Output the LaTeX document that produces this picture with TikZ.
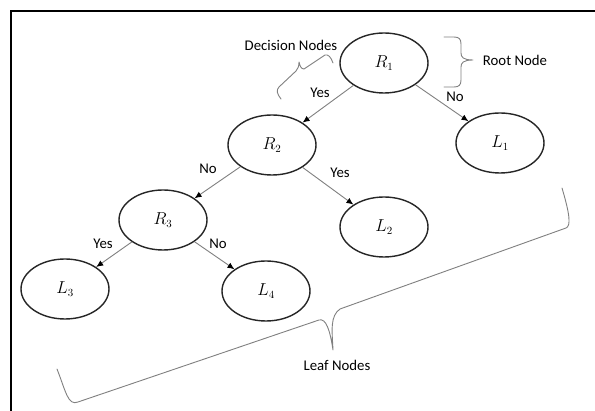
\documentclass[tikz,border=0pt]{standalone}
\usepackage{fontspec}
\setmainfont{Carlito}
\usetikzlibrary{shapes.geometric,arrows.meta}
\begin{document}
\begin{tikzpicture}[x=1pt,y=-1pt,
  tnode/.style={draw=black!85,line width=1.4pt,ellipse,minimum width=88pt,minimum height=60pt,inner sep=0pt,font=\fontsize{16}{19}\selectfont},
  edge/.style={draw=black!50,line width=0.9pt,-{Latex[length=7pt,width=6pt,color=black]}},
  elabel/.style={font=\fontsize{14.8}{18}\selectfont,text=black,inner sep=0pt},
  bracestyle/.style={draw=black!50,line width=0.9pt,line cap=round,line join=round}]
\useasboundingbox (0,0) rectangle (595,411);
\fill[white] (0,0) rectangle (595,411);
% frame
\draw[line width=2pt,black] (11,411) -- (11,11) -- (595,11);
% tree nodes
\node[tnode] (R1) at (384,63) {$R_1$};
\node[tnode] (R2) at (272,145) {$R_2$};
\node[tnode] (L1) at (500,143) {$L_1$};
\node[tnode] (R3) at (163,220) {$R_3$};
\node[tnode] (L2) at (384,227) {$L_2$};
\node[tnode] (L3) at (65,289) {$L_3$};
\node[tnode] (L4) at (266,291) {$L_4$};
% connectors
\draw[edge] (R1) -- (R2);
\draw[edge] (R1) -- (L1);
\draw[edge] (R2) -- (R3);
\draw[edge] (R2) -- (L2);
\draw[edge] (R3) -- (L3);
\draw[edge] (R3) -- (L4);
% edge labels
\node[elabel] (y1) at (320,93) {Yes};
\node[elabel] (n1) at (455,97) {No};
\node[elabel] (n2) at (208,169) {No};
\node[elabel] (y2) at (340,173) {Yes};
\node[elabel] (y3) at (103,244) {Yes};
\node[elabel] (n3) at (218,244) {No};
% annotations
\node[elabel] (dn) at (291,45) {Decision Nodes};
\node[elabel] (rn) at (515,60) {Root Node};
\node[elabel] (ln) at (337,365) {Leaf Nodes};
% decision brace
\draw[bracestyle] (281,99) .. controls (277,94) and (276,90) .. (279,87) -- (296,71)
  .. controls (298,69) and (299,66) .. (299,62) .. controls (300,66) and (301,69) .. (304,69)
  -- (325,55) .. controls (328,54) and (331,57) .. (333,63);
% root brace
\draw[bracestyle] (444,37) -- (454,37) .. controls (459,37) and (461,39) .. (461,44) -- (461,53)
  .. controls (461,57) and (463,60) .. (473,60) .. controls (463,60) and (461,63) .. (461,67)
  -- (461,80) .. controls (461,85) and (459,87) .. (454,87) -- (444,87);
% leaf brace
\draw[bracestyle] (57,369) .. controls (66,392) and (68,406) .. (78,402) -- (319,320)
  .. controls (326,318) and (330,330) .. (333,350) .. controls (332,330) and (330,316) .. (340,309)
  -- (566,228) .. controls (571,226) and (570,215) .. (562,188);
\end{tikzpicture}
\end{document}
